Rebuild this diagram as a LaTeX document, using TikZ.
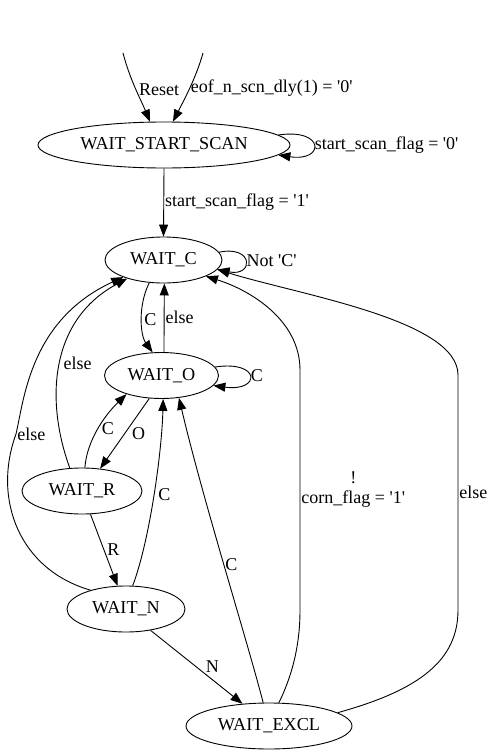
\documentclass[tikz,border=0pt]{standalone}
\usepackage{fontspec}
\setmainfont{Liberation Serif}[Ligatures=TeXOff]
\usetikzlibrary{shapes.geometric, arrows.meta}
\tikzset{state/.style={draw, ellipse, line width=0.9pt, inner sep=0pt, minimum height=46pt, font=\fontsize{18.2}{20}\selectfont}}
\tikzset{edge/.style={line width=0.9pt, -{Triangle[length=12pt, width=9pt]}}}
\tikzset{lbl/.style={inner sep=1pt, font=\fontsize{18}{20}\selectfont}}

\begin{document}
\begin{tikzpicture}[x=1pt, y=-1pt]
\useasboundingbox (0,0) rectangle (494,755);
% states
\node[state, minimum width=252pt] (ss) at (164,145) {WAIT\_START\_SCAN};
\node[state, minimum width=117pt] (wc) at (163.5,260) {WAIT\_C};
\node[state, minimum width=114pt] (wo) at (161.5,375.5) {WAIT\_O};
\node[state, minimum width=120pt] (wr) at (82,491) {WAIT\_R};
\node[state, minimum width=118pt] (wn) at (126,609) {WAIT\_N};
\node[state, minimum width=166pt] (we) at (269,726) {WAIT\_EXCL};
\coordinate (rst) at (123,53);
\coordinate (eof) at (203,53);

% entry edges
\draw[edge] (rst) .. controls (130,80) and (141,100) .. (ss.121) node[lbl, pos=.5, right=2pt] {Reset};
\draw[edge] (eof) .. controls (196,78) and (184,100) .. (ss.69) node[lbl, pos=.5, right] {eof\_n\_scn\_dly(1) = '0'};
\draw[edge] (ss.5) .. controls (325,128) and (325,162) .. (ss.-5) node[lbl, pos=.5, right] {start\_scan\_flag = '0'};
\draw[edge] (ss.south) -- (wc.north) node[lbl, midway, right] {start\_scan\_flag = '1'};

% WAIT_C and WAIT_O
\draw[edge] (wc.8) .. controls (254,245) and (254,277) .. (wc.-10) node[lbl, pos=.5, right] {Not 'C'};
\draw[edge] (wc.238) .. controls (138,305) and (140,335) .. (wo.111) node[lbl, pos=.5, right=1pt] {C};
\draw[edge] (wo.84) -- (wc.-88) node[lbl, midway, right] {else};
\draw[edge] (wo.9) .. controls (261,360) and (261,392) .. (wo.-11) node[lbl, pos=.5, right] {C};

% WAIT_R
\draw[edge] (wo.-118) -- (wr.51) node[lbl, midway, right=6pt] {O};
\draw[edge] (wr.83) .. controls (87,440) and (105,415) .. (wo.208) node[lbl, pos=.5, right=2pt] {C};
\draw[edge] (wr.118) .. controls (45,400) and (50,320) .. (wc.207) node[lbl, pos=.5, right=2pt] {else};
\draw[edge] (wr.-70) -- (wn.110) node[lbl, midway, right=2pt] {R};

% WAIT_N
\draw[edge] (wn.152) .. controls (20,570) and (-8,500) .. (16,434) node[lbl, right] {else}
  .. controls (24,400) and (30,320) .. (wc.203);
\draw[edge] (wn.74) .. controls (150,540) and (162,450) .. (wo.-86) node[lbl, pos=.5, right=3pt] {C};
\draw[edge] (wn.-41) -- (we.140) node[lbl, midway, right=8pt] {N};

% WAIT_EXCL
\draw[edge] (we.104) .. controls (247,640) and (203,500) .. (wo.-52) node[lbl, pos=.5, right] {C};
\draw[edge] (we.67) .. controls (290,680) and (300,650) .. (300,610) -- (300,370)
  node[lbl, midway, right, align=center] {!\\corn\_flag = '1'}
  .. controls (300,320) and (250,290) .. (wc.-21);
\draw[edge] (we.11) .. controls (420,690) and (458,660) .. (458,610) -- (458,375)
  node[lbl, midway, right] {else}
  .. controls (458,320) and (300,295) .. (wc.-10);
\end{tikzpicture}
\end{document}
